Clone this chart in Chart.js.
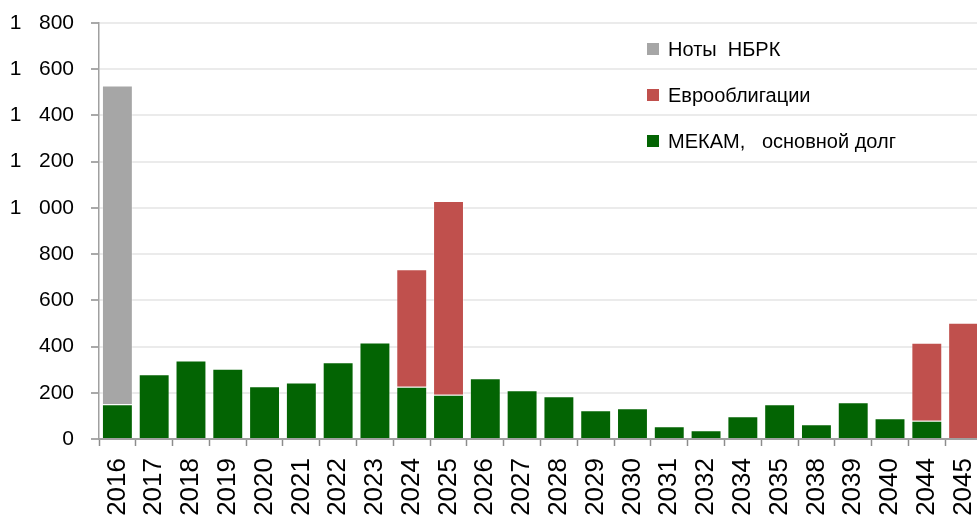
<!DOCTYPE html>
<html>
<head>
<meta charset="utf-8">
<script src="https://cdn.jsdelivr.net/npm/chart.js@4/dist/chart.umd.min.js"></script>
<style>
  html, body { margin: 0; padding: 0; background: #fff; overflow: hidden; }
  #wrap { position: relative; width: 977px; height: 519px; overflow: hidden; }
  #legend { position: absolute; left: 647px; top: 26px; font-family: "Liberation Sans", Arial, sans-serif; font-size: 20px; color: #000; }
  .item { display: flex; align-items: center; height: 46px; white-space: pre; }
  .box { width: 12px; height: 12px; margin-right: 9px; }
</style>
</head>
<body>
<div id="wrap">
  <canvas id="debtChart" width="984" height="519"></canvas>
  <div id="legend"></div>
</div>
<script>
var years = ['2016', '2017', '2018', '2019', '2020', '2021', '2022', '2023', '2024', '2025', '2026', '2027',
             '2028', '2029', '2030', '2031', '2032', '2034', '2035', '2038', '2039', '2040', '2044', '2045'];
var mekam = [150, 280, 340, 304, 228, 245, 332, 418, 226, 192, 263, 211,
             185, 124, 133, 55, 38, 98, 150, 64, 159, 90, 79, 0];
var eurobonds = [0, 0, 0, 0, 0, 0, 0, 0, 509, 838, 0, 0,
                 0, 0, 0, 0, 0, 0, 0, 0, 0, 0, 338, 503];
var notes = [1380, 0, 0, 0, 0, 0, 0, 0, 0, 0, 0, 0,
             0, 0, 0, 0, 0, 0, 0, 0, 0, 0, 0, 0];
var seriesNames = ['МЕКАМ,   основной долг', 'Еврооблигации', 'Ноты  НБРК'];
var yTicks = [0, 200, 400, 600, 800, 1000, 1200, 1400, 1600, 1800];

function fmt(v) {
    if (v >= 1000) {
        var rest = String(v % 1000);
        while (rest.length < 3) rest = '0' + rest;
        return Math.floor(v / 1000) + '   ' + rest;
    }
    return String(v);
}

document.addEventListener('DOMContentLoaded', function () {
    var ctx = document.getElementById('debtChart').getContext('2d');
    var chart = new Chart(ctx, {
        type: 'bar',
        data: {
            labels: years,
            datasets: [{
                label: seriesNames[0],
                data: mekam,
                backgroundColor: '#036403',
                borderColor: 'rgba(255,255,255,0.35)',
                borderWidth: 1
            }, {
                label: seriesNames[1],
                data: eurobonds,
                backgroundColor: '#c0504d',
                borderColor: 'rgba(255,255,255,0.35)',
                borderWidth: 1
            }, {
                label: seriesNames[2],
                data: notes,
                backgroundColor: '#a6a6a6',
                borderColor: 'rgba(255,255,255,0.35)',
                borderWidth: 1
            }]
        },
        options: {
            responsive: false,
            animation: false,
            barPercentage: 0.84,
            categoryPercentage: 1,
            layout: { padding: { top: 23, right: 2, left: 0, bottom: 0 } },
            scales: {
                x: {
                    stacked: true,
                    afterFit: function (scale) {
                        scale.height = 80;
                        scale.paddingLeft = 0;
                        scale.paddingRight = 0;
                    },
                    grid: {
                        offset: true,
                        drawOnChartArea: false,
                        tickLength: 7,
                        tickColor: '#8c8c8c',
                        tickWidth: 1.5
                    },
                    border: { color: '#a0a0a0', width: 2 },
                    ticks: {
                        autoSkip: false,
                        minRotation: 90,
                        maxRotation: 90,
                        padding: 12,
                        color: '#000',
                        font: { family: '"Liberation Sans", Arial, sans-serif', size: 26 }
                    }
                },
                y: {
                    stacked: true,
                    min: 0,
                    max: 1800,
                    afterFit: function (scale) {
                        scale.width = 99;
                        scale.paddingTop = 0;
                        scale.paddingBottom = 0;
                    },
                    afterBuildTicks: function (scale) {
                        scale.ticks = yTicks.map(function (v) { return { value: v }; });
                    },
                    grid: {
                        color: '#ebebeb',
                        lineWidth: 2,
                        tickLength: 8,
                        tickColor: '#8c8c8c',
                        tickWidth: 1.5
                    },
                    border: { color: '#a0a0a0', width: 1.5 },
                    ticks: {
                        padding: 17,
                        color: '#000',
                        font: { family: '"Liberation Sans", Arial, sans-serif', size: 21 },
                        callback: function (value) { return fmt(value); }
                    }
                }
            },
            plugins: {
                legend: { display: false },
                tooltip: { enabled: false }
            }
        }
    });

    var legend = document.getElementById('legend');
    chart.data.datasets.slice().reverse().forEach(function (ds) {
        var item = document.createElement('div');
        item.className = 'item';
        var box = document.createElement('span');
        box.className = 'box';
        box.style.background = ds.backgroundColor;
        var txt = document.createElement('span');
        txt.textContent = ds.label;
        item.appendChild(box);
        item.appendChild(txt);
        legend.appendChild(item);
    });
});
</script>
</body>
</html>
